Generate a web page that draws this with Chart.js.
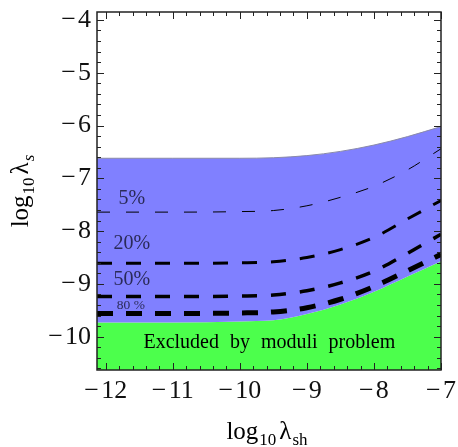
<!DOCTYPE html>
<html>
<head>
<meta charset="utf-8">
<script src="https://cdn.jsdelivr.net/npm/chart.js@4/dist/chart.umd.min.js"></script>
<style>
html,body{margin:0;padding:0;background:#fff;}
#wrap{width:458px;height:447px;position:relative;}
</style>
</head>
<body>
<div id="wrap"><canvas id="chart" width="458" height="447"></canvas></div>
<script>
// ---- data ----
const xVals = [-12.13, -11, -10, -9.5, -9, -8.5, -8, -7.5, -7];
const excludedTop = [-9.73, -9.73, -9.71, -9.69, -9.57, -9.39, -9.15, -8.86, -8.57];
const allowedTop  = [-6.62, -6.62, -6.62, -6.61, -6.57, -6.49, -6.37, -6.21, -6.02];
const c5  = [-7.64, -7.64, -7.63, -7.61, -7.52, -7.36, -7.15, -6.84, -6.44];
const c20 = [-8.61, -8.61, -8.60, -8.58, -8.50, -8.35, -8.12, -7.77, -7.42];
const c50 = [-9.24, -9.24, -9.23, -9.21, -9.13, -8.98, -8.76, -8.42, -8.06];
const c80 = [-9.56, -9.56, -9.55, -9.53, -9.45, -9.29, -9.05, -8.75, -8.44];
const xTicks = [-12, -11, -10, -9, -8, -7];
const yTicks = [-10, -9, -8, -7, -6, -5, -4];
const xRange = [-12.13, -7];
const yRange = [-10.63, -3.85];
const contourLabels = [
  {text: '5%',  x: -11.61, y: -7.39, size: 20},
  {text: '20%', x: -11.61, y: -8.24, size: 20},
  {text: '50%', x: -11.61, y: -8.92, size: 20},
  {text: '80 %', x: -11.625, y: -9.41, size: 13.5}
];
const regionLabel = {text: 'Excluded by moduli problem', x: -9.56, y: -10.11};

const pts = arr => arr.map((v, i) => ({x: xVals[i], y: v}));
const fmt = v => (v < 0 ? '\u2212\u200a' : '') + Math.abs(v);
const SERIF = '"Liberation Serif", "Times New Roman", serif';

function dashed(data, w, dash) {
  return {data: pts(data), borderColor: '#000', borderWidth: w, order: 0,
    borderDash: dash, pointRadius: 0, fill: false, cubicInterpolationMode: 'monotone'};
}

const framePlugin = {
  id: 'frame',
  afterDatasetsDraw(chart) {
    const ctx = chart.ctx, a = chart.chartArea;
    const xs = chart.scales.x, ys = chart.scales.y;
    ctx.save();
    ctx.textAlign = 'center';
    ctx.textBaseline = 'middle';
    contourLabels.forEach(l => {
      ctx.font = l.size + 'px ' + SERIF;
      ctx.fillStyle = '#2a2a58';
      ctx.fillText(l.text, xs.getPixelForValue(l.x), ys.getPixelForValue(l.y));
    });
    ctx.font = '20px ' + SERIF;
    ctx.fillStyle = '#000';
    try { ctx.wordSpacing = '6px'; } catch (e) {}
    ctx.fillText(regionLabel.text, xs.getPixelForValue(regionLabel.x), ys.getPixelForValue(regionLabel.y));
    try { ctx.wordSpacing = '0px'; } catch (e) {}

    // frame ticks (inward)
    ctx.strokeStyle = '#222';
    ctx.lineWidth = 1;
    ctx.beginPath();
    for (let k = -60; k <= -35; k++) {
      const vv = k / 5;
      const major = k % 5 === 0;
      const L = major ? 7 : 4;
      const p = Math.round(xs.getPixelForValue(vv)) + 0.5;
      ctx.moveTo(p, a.bottom); ctx.lineTo(p, a.bottom - L);
      ctx.moveTo(p, a.top); ctx.lineTo(p, a.top + L);
    }
    for (let k = -53; k <= -20; k++) {
      const vv = k / 5;
      const major = k % 5 === 0;
      const L = major ? 7 : 4;
      const p = Math.round(ys.getPixelForValue(vv)) + 0.5;
      ctx.moveTo(a.left, p); ctx.lineTo(a.left + L, p);
      ctx.moveTo(a.right, p); ctx.lineTo(a.right - L, p);
    }
    ctx.stroke();
    ctx.lineWidth = 1.5;
    ctx.strokeStyle = '#222';
    ctx.strokeRect(a.left, a.top, a.right - a.left, a.bottom - a.top);

    // axis titles with subscripts
    ctx.fillStyle = '#000';
    ctx.textAlign = 'left';
    ctx.textBaseline = 'alphabetic';
    function drawTitle(parts) {
      let w = 0;
      parts.forEach(p => { ctx.font = p.f; w += ctx.measureText(p.t).width + (p.g || 0); });
      let x = -w / 2;
      parts.forEach(p => { ctx.font = p.f; ctx.fillText(p.t, x, p.dy); x += ctx.measureText(p.t).width + (p.g || 0); });
    }
    const big = '25px ' + SERIF, small = '17px ' + SERIF, smallIt = 'italic 17px ' + SERIF;
    ctx.save();
    ctx.translate(267, 439);
    drawTitle([{t: 'log', f: big, dy: 0, g: 1}, {t: '10', f: small, dy: 6, g: 3}, {t: '\u03bb', f: big, dy: 0, g: 1}, {t: 'sh', f: small, dy: 6}]);
    ctx.restore();
    ctx.save();
    ctx.translate(28, 191);
    ctx.rotate(-Math.PI / 2);
    drawTitle([{t: 'log', f: big, dy: 0, g: 1}, {t: '10', f: small, dy: 6, g: 3}, {t: '\u03bb', f: big, dy: 0, g: 1}, {t: 's', f: smallIt, dy: 6}]);
    ctx.restore();
    ctx.restore();
  }
};

new Chart(document.getElementById('chart'), {
  type: 'line',
  data: {
    datasets: [
      {data: pts(excludedTop), borderWidth: 0, borderColor: 'rgba(0,0,0,0)', backgroundColor: 'rgb(76,255,76)',
       fill: 'start', pointRadius: 0, cubicInterpolationMode: 'monotone', order: 3},
      {data: pts(allowedTop), borderWidth: 1, borderColor: '#8a8aa8', backgroundColor: 'rgb(128,128,255)',
       fill: 0, pointRadius: 0, cubicInterpolationMode: 'monotone', order: 2},
      dashed(c5, 1, [13, 16]),
      dashed(c20, 3, [15, 14]),
      dashed(c50, 3.5, [15, 14]),
      dashed(c80, 5, [16, 13])
    ]
  },
  options: {
    responsive: false,
    animation: false,
    devicePixelRatio: 1,
    layout: {padding: {top: 12, right: 17, bottom: 0, left: 0}},
    plugins: {legend: {display: false}, tooltip: {enabled: false}, title: {display: false}},
    scales: {
      x: {
        type: 'linear', min: xRange[0], max: xRange[1],
        afterBuildTicks: s => { s.ticks = xTicks.map(v => ({value: v})); },
        afterFit: s => { s.height = 77; s.paddingLeft = 0; s.paddingRight = 0; },
        grid: {display: false, drawTicks: false},
        border: {display: false},
        ticks: {callback: v => fmt(v), font: {family: SERIF, size: 26}, color: '#111', padding: 6, maxRotation: 0, autoSkip: false}
      },
      y: {
        type: 'linear', min: yRange[0], max: yRange[1],
        afterBuildTicks: s => { s.ticks = yTicks.map(v => ({value: v})); },
        afterFit: s => { s.width = 97; s.paddingTop = 0; s.paddingBottom = 0; },
        grid: {display: false, drawTicks: false},
        border: {display: false},
        ticks: {callback: v => fmt(v), font: {family: SERIF, size: 26}, color: '#111', padding: 6, autoSkip: false}
      }
    }
  },
  plugins: [framePlugin]
});
</script>
</body>
</html>
